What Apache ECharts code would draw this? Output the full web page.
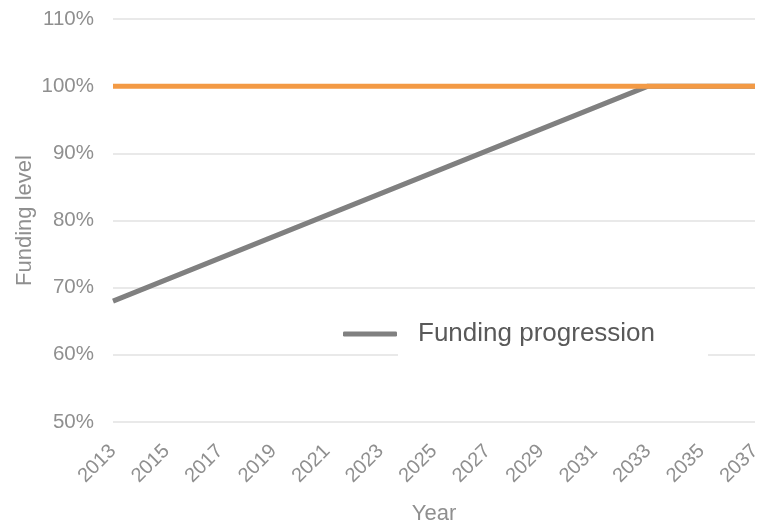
<!DOCTYPE html>
<html>
<head>
<meta charset="utf-8">
<script src="https://cdn.jsdelivr.net/npm/echarts@6/dist/echarts.min.js"></script>
<style>html,body{margin:0;padding:0;background:#fff}#c{width:758px;height:523px}</style>
</head>
<body>
<div id="c"></div>
<script>
var years = ['2013','2014','2015','2016','2017','2018','2019','2020','2021','2022','2023','2024','2025','2026','2027','2028','2029','2030','2031','2032','2033','2034','2035','2036','2037'];
var fundingProgression = [68.0,69.6,71.2,72.8,74.4,76.0,77.6,79.2,80.8,82.4,84.0,85.6,87.2,88.8,90.4,92.0,93.6,95.2,96.8,98.4,100,100,100,100,100];
var fullFunding = [100,100,100,100,100,100,100,100,100,100,100,100,100,100,100,100,100,100,100,100,100,100,100,100,100];
var yTicks = {min: 50, max: 110, interval: 10};

var chart = echarts.init(document.getElementById('c'));
var labelColor = '#8f8f8f';
var font = 'Liberation Sans, Arial, sans-serif';
chart.setOption({
  animation: false,
  grid: {left: 113, right: 3, top: 19, bottom: 101, containLabel: false, outerBoundsMode: 'none'},
  graphic: [{
    type: 'rect', z: 1,
    shape: {x: 398, y: 312, width: 310, height: 48},
    style: {fill: '#ffffff'}
  }],
  legend: {
    left: 338, top: 316, z: 5,
    data: [{name: 'Funding progression', icon: 'roundRect'}],
    itemWidth: 54, itemHeight: 5,
    textStyle: {fontSize: 26, color: '#595959', fontFamily: font, padding: [0, 0, 0, 16]}
  },
  xAxis: {
    type: 'category', data: years, boundaryGap: false,
    name: 'Year', nameLocation: 'middle', nameGap: 81, nameMoveOverlap: false,
    nameTextStyle: {fontSize: 22, color: labelColor, fontFamily: font},
    axisLine: {show: false}, axisTick: {show: false},
    axisLabel: {interval: 1, rotate: 45, fontSize: 20, color: labelColor, fontFamily: font, margin: 26, hideOverlap: false},
    splitLine: {show: false}
  },
  yAxis: {
    type: 'value', min: yTicks.min, max: yTicks.max, interval: yTicks.interval,
    name: 'Funding level', nameLocation: 'middle', nameGap: 77, nameMoveOverlap: false,
    nameTextStyle: {fontSize: 22, color: labelColor, fontFamily: font},
    axisLine: {show: false}, axisTick: {show: false},
    axisLabel: {formatter: '{value}%', fontSize: 20.5, color: labelColor, fontFamily: font, margin: 19},
    splitLine: {lineStyle: {color: '#e2e2e2', width: 1.5}}
  },
  series: [
    {name: 'Funding progression', type: 'line', data: fundingProgression, symbol: 'none', z: 2,
     lineStyle: {color: '#808080', width: 5}, itemStyle: {color: '#808080'}},
    {name: 'Full funding', type: 'line', data: fullFunding, symbol: 'none', z: 3,
     lineStyle: {color: '#f39a45', width: 5}, itemStyle: {color: '#f39a45'}}
  ]
});
</script>
</body>
</html>
